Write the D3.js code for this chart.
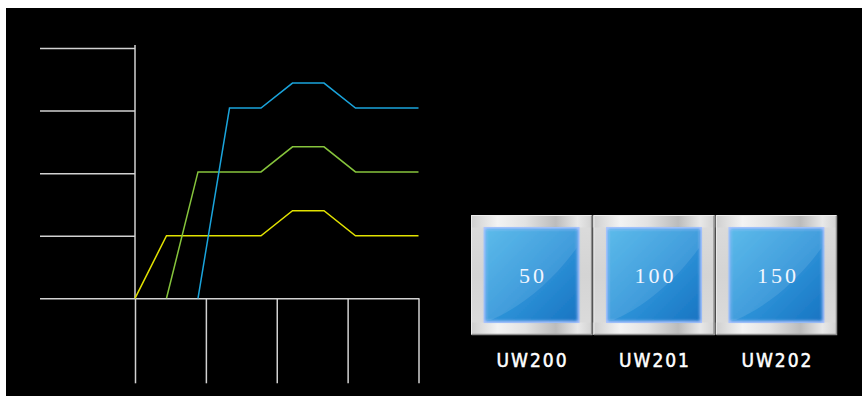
<!DOCTYPE html>
<html lang="en">
<head>
<meta charset="UTF-8">
<title>UW trend</title>
<script src="https://d3js.org/d3.v7.min.js"></script>
<style>
  body { margin: 0; background: #fff; }
  svg { display: block; }
  .grid line, .grid path { stroke: #d2d2d2; stroke-width: 1.5; }
</style>
</head>
<body>
<div id="chart"></div>
<script>
// datos
const tYellow = [0, 1, 4, 5, 6, 7, 9];
const vYellow = [0, 50, 50, 70, 70, 50, 50];
const tGreen = [1, 2, 4, 5, 6, 7, 9];
const vGreen = [0, 101, 101, 121, 121, 101, 101];
const tBlue = [2, 3, 4, 5, 6, 7, 9];
const vBlue = [0, 152, 152, 172, 172, 152, 152];
const yTicks = [0, 50, 100, 150, 200];
const xTicks = [0, 2.25, 4.5, 6.75, 9];
const labels = ["UW200", "UW201", "UW202"];
const values = [50, 100, 150];

const W = 862, H = 396;
const svg = d3.select("#chart").append("svg").attr("width", W).attr("height", H);

// fondo negro
svg.append("rect").attr("x", 6).attr("y", 8).attr("width", W - 6).attr("height", H - 8).attr("fill", "#000");

const x = d3.scaleLinear().domain([0, 9]).range([135, 418.5]);
const y = d3.scaleLinear().domain([0, 200]).range([298.3, 48]);

// eje izquierdo (lineas hacia la izquierda)
const gy = svg.append("g").attr("class", "grid")
    .attr("transform", `translate(${x(0)},0)`)
    .call(d3.axisLeft(y).tickValues(yTicks).tickSize(95).tickSizeOuter(0).tickFormat(""));
gy.select(".domain").remove();
svg.append("line").attr("class", "grid")
    .attr("x1", x(0)).attr("x2", x(0))
    .attr("y1", y(200) - 3).attr("y2", y(0))
    .attr("stroke", "#d2d2d2").attr("stroke-width", 1.5);

// eje inferior (lineas hacia abajo)
svg.append("g").attr("class", "grid")
    .attr("transform", `translate(0,${y(0)})`)
    .call(d3.axisBottom(x).tickValues(xTicks).tickSize(85).tickSizeOuter(0).tickFormat(""))
    .selectAll("path").attr("fill", "none");

// lineas de datos
const line = d3.line().x(d => x(d[0])).y(d => y(d[1]));
const series = [
    {t: tYellow, v: vYellow, color: "#e2e200"},
    {t: tGreen, v: vGreen, color: "#86c43c"},
    {t: tBlue, v: vBlue, color: "#1aa4dc"}
];
series.forEach(s => {
    svg.append("path")
        .datum(s.t.map((t, i) => [t, s.v[i]]))
        .attr("fill", "none")
        .attr("stroke", s.color)
        .attr("stroke-width", 1.5)
        .attr("d", line);
});

// botones
const defs = svg.append("defs");
const frameGrad = defs.append("linearGradient").attr("id", "frameGrad")
    .attr("x1", 0).attr("y1", 0).attr("x2", 1).attr("y2", 0);
[[0, "#cfcfcf"], [0.22, "#f3f3f3"], [0.45, "#e2e2e2"], [0.7, "#bcbcbc"], [0.88, "#e8e8e8"], [1, "#d2d2d2"]]
    .forEach(s => frameGrad.append("stop").attr("offset", s[0]).attr("stop-color", s[1]));
const sideGrad = defs.append("linearGradient").attr("id", "sideGrad")
    .attr("x1", 0).attr("y1", 0).attr("x2", 0).attr("y2", 1);
[[0, "#dcdcdc"], [0.5, "#d4d4d4"], [1, "#dcdcdc"]]
    .forEach(s => sideGrad.append("stop").attr("offset", s[0]).attr("stop-color", s[1]));
const blueGrad = defs.append("linearGradient").attr("id", "blueGrad")
    .attr("x1", 0).attr("y1", 0).attr("x2", 1).attr("y2", 1);
[[0, "#4ab3e8"], [0.5, "#2f95da"], [1, "#1874c2"]]
    .forEach(s => blueGrad.append("stop").attr("offset", s[0]).attr("stop-color", s[1]));
defs.append("filter").attr("id", "glow").attr("x", -0.1).attr("y", -0.1).attr("width", 1.2).attr("height", 1.2)
    .append("feGaussianBlur").attr("stdDeviation", 1.6);

const bx = d3.scaleBand().domain(labels).range([471, 837]).paddingInner(0.01);
const bw = bx.bandwidth();
const btnTop = 215, bh = 120, inset = 12.5, inner = 96;

const btn = svg.selectAll(".btn").data(labels).enter().append("g")
    .attr("class", "btn")
    .attr("transform", d => `translate(${bx(d)},${btnTop})`);

btn.append("rect").attr("width", bw).attr("height", bh).attr("fill", "url(#sideGrad)");
btn.append("rect").attr("x", 0).attr("y", 0).attr("width", bw).attr("height", inset).attr("fill", "url(#frameGrad)");
btn.append("rect").attr("x", 0).attr("y", bh - inset).attr("width", bw).attr("height", inset).attr("fill", "url(#frameGrad)");
btn.append("path")
    .attr("d", `M${bw - 0.5},0.5V${bh - 0.5}H0.5`)
    .attr("fill", "none").attr("stroke", "#8e8e8e").attr("stroke-width", 1.5);
btn.append("path")
    .attr("d", `M0.5,${bh - 1}V0.5H${bw - 1}`)
    .attr("fill", "none").attr("stroke", "#eeeeee").attr("stroke-width", 1);

// cuadro azul
btn.append("rect")
    .attr("x", (bw - inner) / 2).attr("y", inset - 0.5)
    .attr("width", inner).attr("height", inner)
    .attr("fill", "#b0c4ff");
btn.append("rect")
    .attr("x", (bw - inner) / 2 + 2).attr("y", inset + 1.5)
    .attr("width", inner - 4).attr("height", inner - 4)
    .attr("fill", "url(#blueGrad)")
    .attr("filter", "url(#glow)");
btn.append("path")
    .attr("d", () => {
        const x0 = (bw - inner) / 2 + 3, y0 = inset + 2.5, s = inner - 6;
        return `M${x0},${y0}H${x0 + s}V${y0 + s * 0.2}C${x0 + s * 0.75},${y0 + s * 0.55} ${x0 + s * 0.4},${y0 + s * 0.85} ${x0 + s * 0.05},${y0 + s}H${x0}Z`;
    })
    .attr("fill", "#ffffff").attr("opacity", 0.1);

btn.append("text")
    .attr("x", bw / 2 + 1.5).attr("y", 67.5)
    .attr("text-anchor", "middle")
    .attr("fill", "#f2f6ff")
    .style("font-family", "'Liberation Serif', 'DejaVu Serif', serif")
    .style("font-size", "22px")
    .style("letter-spacing", "3px")
    .text((d, i) => values[i]);

// etiquetas
btn.append("text")
    .attr("x", bw / 2).attr("y", 152)
    .attr("text-anchor", "middle")
    .attr("fill", "#ffffff")
    .attr("stroke", "#ffffff")
    .attr("stroke-width", 0.5)
    .style("font-family", "'DejaVu Sans Condensed', 'DejaVu Sans', sans-serif")
    .style("font-size", "19px")
    .attr("textLength", 70)
    .attr("lengthAdjust", "spacing")
    .text(d => d);
</script>
</body>
</html>
